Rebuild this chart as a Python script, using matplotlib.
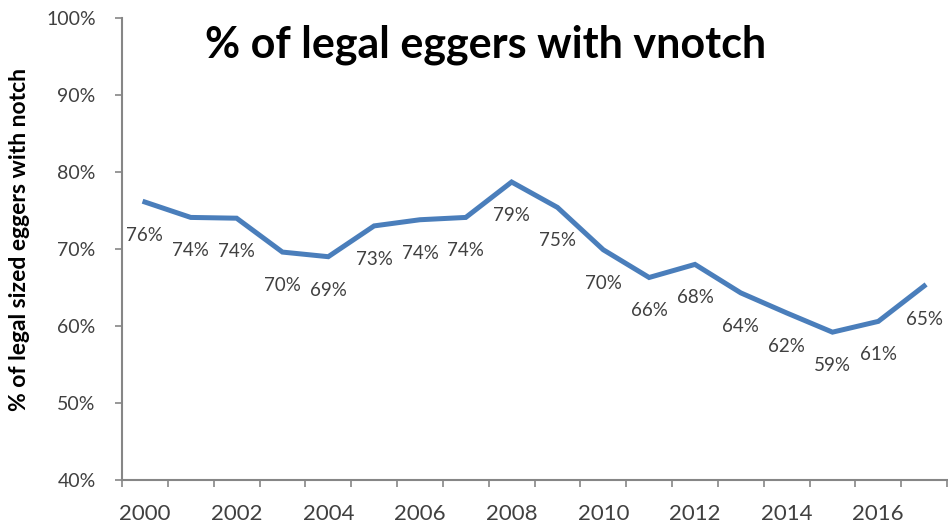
import matplotlib
matplotlib.use("Agg")
import matplotlib.pyplot as plt
from matplotlib.ticker import FixedLocator, FuncFormatter

# values (percent)
years = list(range(2000, 2018))
pct = [76.1, 74.1, 74.0, 69.6, 69.0, 73.0, 73.8, 74.1, 78.7, 75.4,
       69.9, 66.3, 68.0, 64.3, 61.7, 59.2, 60.6, 65.2]
year_labels = [str(y) for y in years]

plt.rcParams['font.family'] = ['Lato', 'DejaVu Sans']
txt = '#404040'
axcol = '#868686'

fig = plt.figure(figsize=(9.48, 5.29), dpi=100)
ax = fig.add_axes([0.1287, 0.0926, 0.8703, 0.8734])

x = list(range(len(years)))
ax.plot(x, pct, color='#4A7EBB', lw=3.6, solid_joinstyle='miter')

# data labels under each point
for xi, v in zip(x, pct):
    ax.annotate(f"{v:.0f}%", (xi, v), xytext=(0, -24), textcoords='offset points',
                ha='center', va='center', fontsize=13.5, color=txt)

ax.set_xlim(-0.5, len(years) - 0.5)
ax.set_ylim(40, 100)
ax.set_yticks(range(40, 101, 10))
ax.yaxis.set_major_formatter(FuncFormatter(lambda v, p: f"{v:.0f}%"))

# category axis: tick marks between categories, label every other year
ax.set_xticks(x[::2])
ax.set_xticklabels(year_labels[::2])
ax.xaxis.set_minor_locator(FixedLocator([i - 0.5 for i in range(len(years) + 1)]))
ax.tick_params(axis='x', which='major', length=0, pad=17, labelsize=16, labelcolor=txt)
ax.tick_params(axis='x', which='minor', length=5, width=1.2, color=axcol, direction='out')
ax.tick_params(axis='y', length=5, width=1.2, color=axcol, pad=14, labelsize=14, labelcolor=txt)

for s in ['top', 'right']:
    ax.spines[s].set_visible(False)
for s in ['left', 'bottom']:
    ax.spines[s].set_color(axcol)
    ax.spines[s].set_linewidth(1.5)

ax.set_ylabel('% of legal sized eggers with notch', fontsize=16.5, fontweight='bold',
              color='black')
ax.yaxis.set_label_coords(-0.112, 0.52)

fig.text(0.512, 0.915, '% of legal eggers with vnotch', ha='center', va='center',
         fontsize=31, fontweight='bold', color='black')

fig.savefig('out.png', dpi=100)
